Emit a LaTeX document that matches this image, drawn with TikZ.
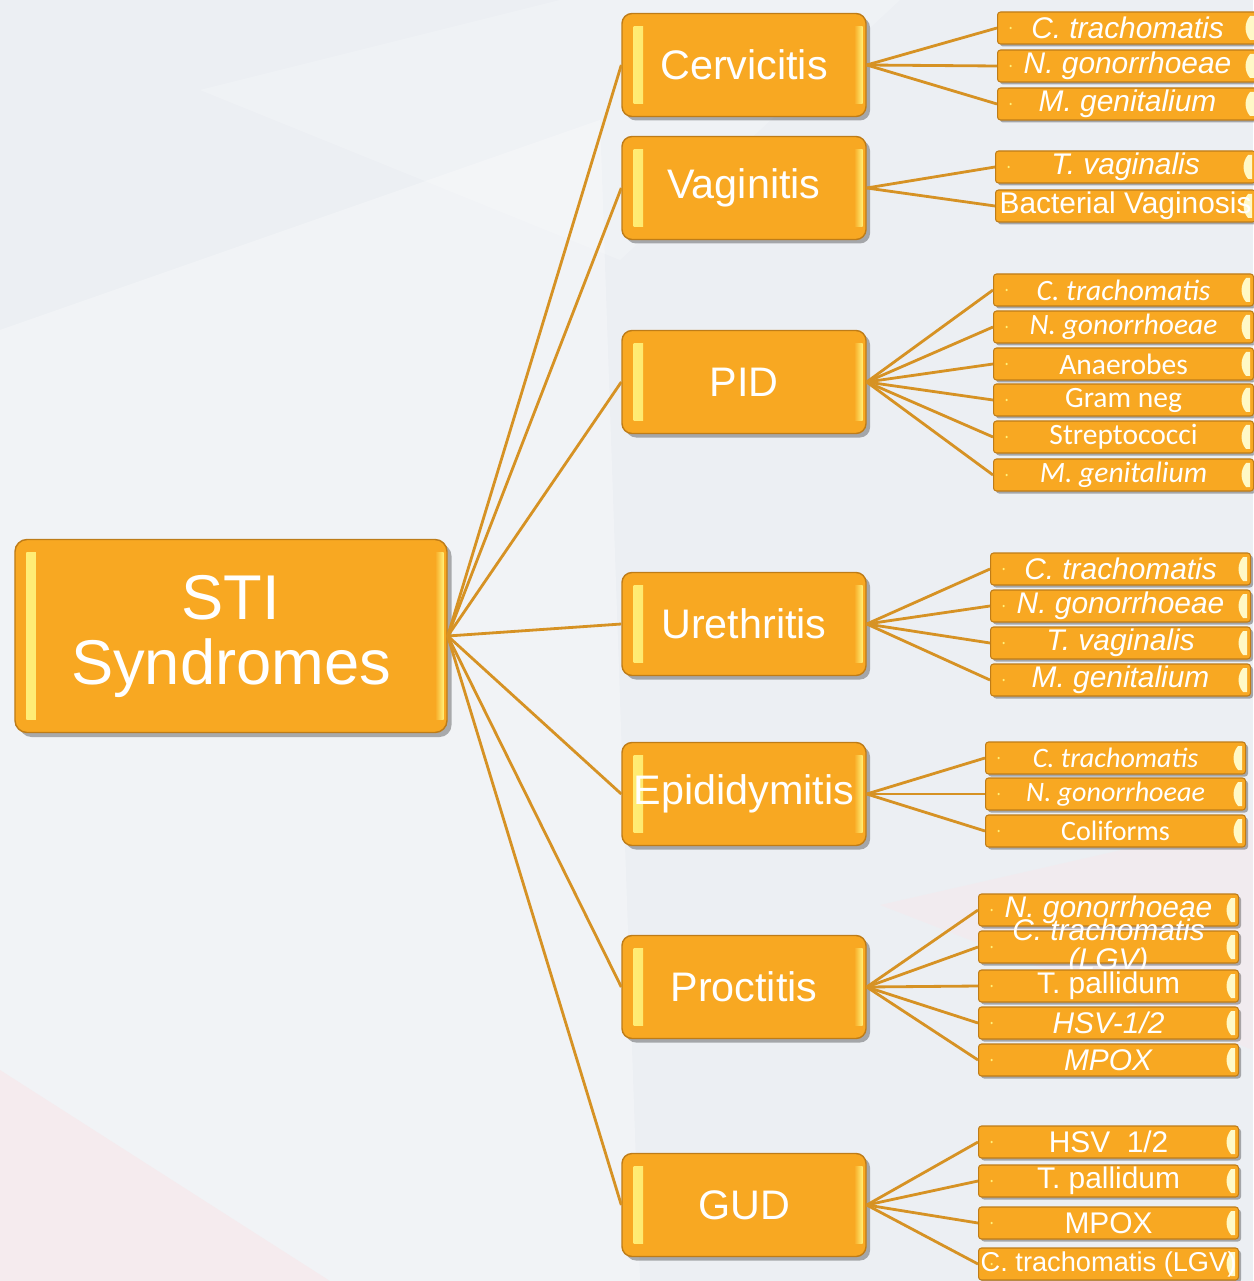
\documentclass[tikz,border=0pt]{standalone}
\usepackage{fontspec}
\setmainfont{Liberation Sans}
\newfontfamily\calib{Carlito}
\usepackage{tikz}
\usetikzlibrary{calc,shadows}

\definecolor{boxorange}{RGB}{248,168,34}
\definecolor{boxrim}{RGB}{190,124,24}
\definecolor{hilite}{RGB}{255,240,120}
\definecolor{linkorange}{RGB}{214,146,36}
\definecolor{bgcolor}{RGB}{236,239,243}
\definecolor{bgpink}{RGB}{246,233,236}

\tikzset{
  bigbevel/.style={path picture={
      \shade[sharp corners,left color=hilite,right color=boxorange] ([shift={(2.3mm,-2.6mm)}]path picture bounding box.north west) rectangle ([shift={(4.2mm,2.6mm)}]path picture bounding box.south west);
      \shade[sharp corners,left color=boxorange,right color=hilite] ([shift={(-2.4mm,-2.6mm)}]path picture bounding box.north east) rectangle ([shift={(-0.7mm,2.6mm)}]path picture bounding box.south east);
  }},
  smallbevel/.style={path picture={
      \shade[sharp corners,left color=hilite,right color=white!60!hilite] ([shift={(-0.7mm,-0.8mm)}]path picture bounding box.north east) -- ([shift={(-1.5mm,-0.8mm)}]path picture bounding box.north east) .. controls ([shift={(-2.7mm,-2.2mm)}]path picture bounding box.north east) and ([shift={(-2.7mm,2.2mm)}]path picture bounding box.south east) .. ([shift={(-1.5mm,0.8mm)}]path picture bounding box.south east) -- ([shift={(-0.7mm,0.8mm)}]path picture bounding box.south east) -- cycle;
      \fill[hilite] ([shift={(2.6mm,0)}]path picture bounding box.west) circle (0.25mm);
  }},
  rootbox/.style={draw=boxrim,line width=0.8pt,fill=boxorange,rounded corners=2.4mm,
    drop shadow={shadow xshift=0.9mm,shadow yshift=-0.9mm,opacity=.3,fill=black},bigbevel,
    text=white,align=center,minimum width=86.4mm,minimum height=38.6mm,inner sep=0pt,
    font=\fontsize{36}{37}\selectfont},
  syndrome/.style={draw=boxrim,line width=0.8pt,fill=boxorange,rounded corners=2mm,
    drop shadow={shadow xshift=0.8mm,shadow yshift=-0.8mm,opacity=.3,fill=black},bigbevel,
    text=white,minimum width=48.8mm,minimum height=20.6mm,inner sep=0pt,
    font=\fontsize{23.5}{26}\selectfont},
  leaf/.style={draw=boxrim,line width=0.6pt,fill=boxorange,rounded corners=0.6mm,
    drop shadow={shadow xshift=0.5mm,shadow yshift=-0.5mm,opacity=.3,fill=black},smallbevel,
    text=white,anchor=west,minimum width=52mm,minimum height=6.4mm,inner sep=0pt,
    font=\fontsize{17}{17}\selectfont},
  leafc/.style={leaf,font=\calib\fontsize{16.8}{17}\selectfont},
  leaftext/.style={text=white,inner sep=0pt,align=center,font=\fontsize{17}{16.5}\selectfont},
  link/.style={draw=linkorange,line width=1.6pt}
}

\begin{document}
\begin{tikzpicture}[x=0.2mm,y=-0.2mm]
  %% background
  \useasboundingbox (0,0) rectangle (1253,1281);
  \fill[bgcolor] (0,0) rectangle (1253,1281);
  \fill[white,opacity=.3] (0,330) -- (600,120) -- (640,1281) -- (0,1281) -- cycle;
  \fill[white,opacity=.2] (200,90) -- (560,0) -- (900,0) -- (620,260) -- cycle;
  \fill[bgpink,opacity=.8] (0,1070) -- (330,1281) -- (0,1281) -- cycle;
  \fill[bgpink,opacity=.5] (880,905) -- (1253,820) -- (1253,1050) -- cycle;

  %% root and syndromes
  \node (sti) at (231,636) [rootbox] {\raisebox{-1.2mm}{STI}\\\raisebox{-1.2mm}{Syndromes}};
  \node (cerv) at (744,65) [syndrome] {Cervicitis};
  \node (vag) at (744,188) [syndrome] {Vaginitis};
  \node (pid) at (744,382) [syndrome] {PID};
  \node (ureth) at (744,624) [syndrome] {Urethritis};
  \node (epid) at (744,794) [syndrome] {Epididymitis};
  \node (proct) at (744,987) [syndrome] {Proctitis};
  \node (gud) at (744,1205) [syndrome] {GUD};

  %% Cervicitis
  \node (cv1) at (997,28) [leaf] {\textit{C. trachomatis}};
  \node (cv2) at (997,66) [leaf] {\textit{N. gonorrhoeae}};
  \node (cv3) at (997,104) [leaf] {\textit{M. genitalium}};
  %% Vaginitis
  \node (vg1) at (995,167) [leaf] {\textit{T. vaginalis}};
  \node (vg2) at (995,206) [leaf] {Bacterial Vaginosis};
  %% PID
  \node (pd1) at (993,290) [leafc] {\textit{C. trachomatis}};
  \node (pd2) at (993,327) [leafc] {\textit{N. gonorrhoeae}};
  \node (pd3) at (993,364) [leafc] {Anaerobes};
  \node (pd4) at (993,400) [leafc] {Gram neg};
  \node (pd5) at (993,437) [leafc] {Streptococci};
  \node (pd6) at (993,475) [leafc] {\textit{M. genitalium}};
  %% Urethritis
  \node (ur1) at (990,569) [leaf] {\textit{C. trachomatis}};
  \node (ur2) at (990,606) [leaf] {\textit{N. gonorrhoeae}};
  \node (ur3) at (990,643) [leaf] {\textit{T. vaginalis}};
  \node (ur4) at (990,680) [leaf] {\textit{M. genitalium}};
  %% Epididymitis
  \node (ep1) at (985,758) [leafc,font=\calib\fontsize{16}{17}\selectfont] {\textit{C. trachomatis}};
  \node (ep2) at (985,794) [leafc,font=\calib\fontsize{16}{17}\selectfont] {\textit{N. gonorrhoeae}};
  \node (ep3) at (985,831) [leafc,font=\calib\fontsize{16}{17}\selectfont] {Coliforms};
  %% Proctitis
  \node (pr1) at (978,910) [leaf] {\textit{N. gonorrhoeae}};
  \node (pr2) at (978,947) [leaf] {};
  \node (pr2txt) at (pr2.center) [leaftext] {\textit{C. trachomatis}\\\textit{(LGV)}};
  \node (pr3) at (978,986) [leaf] {T. pallidum};
  \node (pr4) at (978,1023) [leaf] {\textit{HSV-1/2}};
  \node (pr5) at (978,1060) [leaf] {\textit{MPOX}};
  %% GUD
  \node (gd1) at (978,1142) [leaf] {HSV\ \ 1/2};
  \node (gd2) at (978,1181) [leaf] {T. pallidum};
  \node (gd3) at (978,1223) [leaf] {MPOX};
  \node (gd4) at (978,1264) [leaf,font=\fontsize{15.5}{16}\selectfont] {C. trachomatis (LGV)};

  %% links from root
  \draw[link] (sti.east) -- (cerv.west);
  \draw[link] (sti.east) -- (vag.west);
  \draw[link] (sti.east) -- (pid.west);
  \draw[link] (sti.east) -- (ureth.west);
  \draw[link] (sti.east) -- (epid.west);
  \draw[link] (sti.east) -- (proct.west);
  \draw[link] (sti.east) -- (gud.west);

  %% links to organisms
  \draw[link] (cerv.east) -- (cv1.west);
  \draw[link] (cerv.east) -- (cv2.west);
  \draw[link] (cerv.east) -- (cv3.west);
  \draw[link] (vag.east) -- (vg1.west);
  \draw[link] (vag.east) -- (vg2.west);
  \draw[link] (pid.east) -- (pd1.west);
  \draw[link] (pid.east) -- (pd2.west);
  \draw[link] (pid.east) -- (pd3.west);
  \draw[link] (pid.east) -- (pd4.west);
  \draw[link] (pid.east) -- (pd5.west);
  \draw[link] (pid.east) -- (pd6.west);
  \draw[link] (ureth.east) -- (ur1.west);
  \draw[link] (ureth.east) -- (ur2.west);
  \draw[link] (ureth.east) -- (ur3.west);
  \draw[link] (ureth.east) -- (ur4.west);
  \draw[link] (epid.east) -- (ep1.west);
  \draw[link] (epid.east) -- (ep2.west);
  \draw[link] (epid.east) -- (ep3.west);
  \draw[link] (proct.east) -- (pr1.west);
  \draw[link] (proct.east) -- (pr2.west);
  \draw[link] (proct.east) -- (pr3.west);
  \draw[link] (proct.east) -- (pr4.west);
  \draw[link] (proct.east) -- (pr5.west);
  \draw[link] (gud.east) -- (gd1.west);
  \draw[link] (gud.east) -- (gd2.west);
  \draw[link] (gud.east) -- (gd3.west);
  \draw[link] (gud.east) -- (gd4.west);
\end{tikzpicture}
\end{document}
